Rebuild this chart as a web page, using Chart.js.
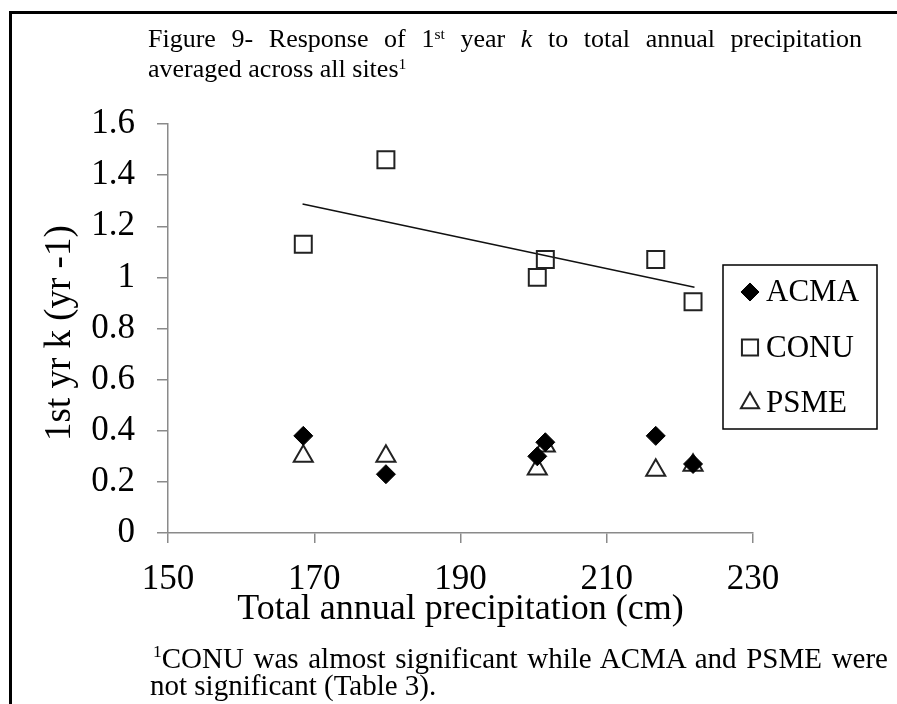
<!DOCTYPE html>
<html>
<head>
<meta charset="utf-8">
<script src="https://cdn.jsdelivr.net/npm/chart.js@4.4.1/dist/chart.umd.min.js"></script>
<style>
    html, body { margin: 0; padding: 0; background: #fff; }
    #wrap { position: relative; width: 897px; height: 704px; overflow: hidden; }
    #chart { position: absolute; left: 0; top: 0; }
    .txt { position: absolute; white-space: nowrap; font-family: 'Liberation Serif', 'Times New Roman', serif; color: #000; line-height: 1; }
    .sup { position: relative; font-size: 0.6em; }
    .rule { position: absolute; background: #000; }
</style>
</head>
<body>
<div id="wrap">
    <div class="rule" style="left:9px;top:11px;width:888px;height:3px"></div>
    <div class="rule" style="left:9px;top:11px;width:3px;height:693px"></div>
    <canvas id="chart" width="897" height="704"></canvas>
    <div class="txt" id="cap1" style="left:148px;top:26.2px;font-size:26px">Figure 9- Response of 1<span class="sup" style="top:-0.52em">st</span> year <i>k</i> to total annual precipitation</div>
    <div class="txt" id="cap2" style="left:148px;top:56.2px;font-size:26px">averaged across all sites<span class="sup" style="top:-0.52em">1</span></div>
    <div class="txt" id="note1" style="left:153px;top:643.7px;font-size:29px"><span class="sup" style="top:-0.63em">1</span>CONU was almost significant while ACMA and PSME were</div>
    <div class="txt" id="note2" style="left:150px;top:670.7px;font-size:29px">not significant (Table 3).</div>
</div>
<script>
// total annual precipitation (cm) for each site
const precip = [168.5, 179.8, 200.5, 201.6, 216.7, 221.8];
// 1st yr k (yr -1)
const acma = [0.38, 0.23, 0.30, 0.355, 0.38, 0.27];
const conu = [1.13, 1.46, 1.00, 1.07, 1.07, 0.905];
const psme = [0.30, 0.30, 0.25, 0.34, 0.245, 0.265];
// CONU trend line ends, as drawn
const trendX = [168.4, 222.0];
const trendY = [1.287, 0.961];

const seriesNames = ['ACMA', 'CONU', 'PSME'];
const xTickLabels = ['150', '170', '190', '210', '230'];
const yTickLabels = ['0', '0.2', '0.4', '0.6', '0.8', '1', '1.2', '1.4', '1.6'];

const SERIF = "'Liberation Serif', 'Times New Roman', serif";
const AXIS_GREY = '#8a8a8a';

function pts(xs, ys) {
    return xs.map((x, i) => ({ x: x, y: ys[i] }));
}

// legend box drawn inside the plot, like the Excel one
const boxLegend = {
    id: 'boxLegend',
    afterDraw(chart) {
        const ctx = chart.ctx;
        ctx.save();
        ctx.strokeStyle = '#000';
        ctx.lineWidth = 1.5;
        ctx.strokeRect(723, 265, 154, 164);
        const rows = [292, 347.5, 403];
        seriesNames.forEach((name, i) => {
            const ds = chart.data.datasets[i];
            ctx.fillStyle = ds.backgroundColor;
            ctx.strokeStyle = ds.borderColor;
            ctx.lineWidth = ds.borderWidth;
            Chart.helpers.drawPoint(ctx, {
                pointStyle: ds.pointStyle,
                radius: ds.pointRadius * 0.95,
                rotation: 0,
                borderWidth: ds.borderWidth
            }, 750, rows[i]);
            ctx.fillStyle = '#000';
            ctx.font = '31px ' + SERIF;
            ctx.textBaseline = 'middle';
            ctx.textAlign = 'left';
            ctx.fillText(name, 766, rows[i] + 1);
        });
        ctx.restore();
    }
};

new Chart(document.getElementById('chart'), {
    type: 'scatter',
    data: {
        datasets: [
            {
                label: seriesNames[0],
                data: pts(precip, acma),
                pointStyle: 'rectRot',
                pointRadius: 9.5,
                backgroundColor: '#000',
                borderColor: '#000',
                borderWidth: 1
            },
            {
                label: seriesNames[1],
                data: pts(precip, conu),
                pointStyle: 'rect',
                pointRadius: 12,
                backgroundColor: 'rgba(255,255,255,0)',
                borderColor: '#222',
                borderWidth: 2
            },
            {
                label: seriesNames[2],
                data: pts(precip, psme),
                pointStyle: 'triangle',
                pointRadius: 11,
                backgroundColor: '#fff',
                borderColor: '#222',
                borderWidth: 2
            },
            {
                label: 'CONU trend',
                data: pts(trendX, trendY),
                showLine: true,
                pointRadius: 0,
                borderColor: '#111',
                borderWidth: 1.5,
                backgroundColor: '#111'
            }
        ]
    },
    options: {
        responsive: false,
        animation: false,
        events: [],
        layout: { padding: { left: 0, top: 124, right: 144, bottom: 0 } },
        plugins: {
            legend: { display: false },
            tooltip: { enabled: false }
        },
        scales: {
            x: {
                type: 'linear',
                min: 150,
                max: 230,
                afterFit: (s) => { s.height = 171; },
                afterBuildTicks: (s) => { s.ticks = xTickLabels.map(v => ({ value: Number(v) })); },
                ticks: {
                    color: '#000',
                    font: { family: SERIF, size: 35 },
                    padding: 16,
                    maxRotation: 0,
                    callback: (v, i) => xTickLabels[i]
                },
                grid: { drawOnChartArea: false, color: AXIS_GREY, tickLength: 10, lineWidth: 1.5 },
                border: { color: AXIS_GREY, width: 1.5 },
                title: {
                    display: true,
                    text: 'Total annual precipitation (cm)',
                    color: '#000',
                    font: { family: SERIF, size: 36 },
                    padding: { top: 0, bottom: 72.5 }
                }
            },
            y: {
                type: 'linear',
                min: 0,
                max: 1.6,
                afterFit: (s) => { s.width = 168; },
                afterBuildTicks: (s) => { s.ticks = yTickLabels.map(v => ({ value: Number(v) })); },
                ticks: {
                    color: '#000',
                    font: { family: SERIF, size: 35 },
                    padding: 22,
                    callback: (v, i) => yTickLabels[i]
                },
                grid: { drawOnChartArea: false, color: AXIS_GREY, tickLength: 11, lineWidth: 1.5 },
                border: { color: AXIS_GREY, width: 1.5 },
                title: {
                    display: true,
                    // trailing nbsp nudges the centred title a little lower, as in the figure
                    text: '1st yr k (yr -1)\u00a0',
                    color: '#000',
                    font: { family: SERIF, size: 37 },
                    padding: { top: 38, bottom: 0 }
                }
            }
        }
    },
    plugins: [boxLegend]
});

// first line of each caption paragraph is justified to the text box width
function justify(el, width) {
    const w = el.getBoundingClientRect().width;
    const gaps = (el.textContent.match(/ /g) || []).length;
    el.style.wordSpacing = Math.max(0, (width - w) / gaps).toFixed(2) + 'px';
}
justify(document.getElementById('cap1'), 714);
justify(document.getElementById('note1'), 735);
</script>
</body>
</html>
